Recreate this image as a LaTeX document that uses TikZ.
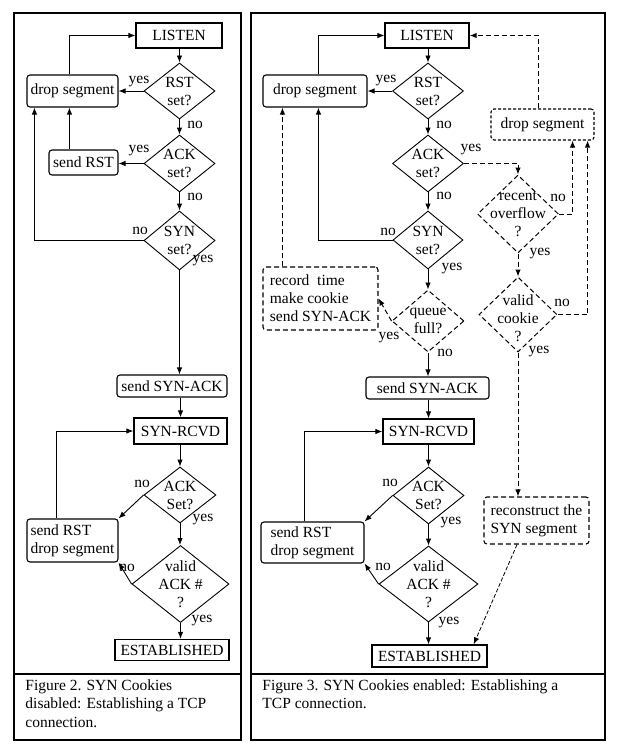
\documentclass[tikz,border=0pt]{standalone}
\usepackage{fontspec}
\setmainfont{Liberation Serif}
\usetikzlibrary{arrows.meta,shapes.geometric}

\tikzset{
  sz/.style 2 args={minimum width=#1,minimum height=#2},
  box/.style={draw,line width=1.3pt,inner sep=0pt},
  act/.style={draw,line width=1.1pt,rounded corners=3pt,inner sep=0pt,align=left},
  dact/.style={act,line width=1.1pt,dash pattern=on 5pt off 3pt},
  dec/.style={draw,diamond,line width=0.9pt,inner sep=0pt},
  ddec/.style={dec,line width=1pt,dash pattern=on 5pt off 3pt},
  dtx/.style={align=center,inner sep=0pt},
  lab/.style={inner sep=0pt},
  dline/.style={line width=1pt,dash pattern=on 5pt off 3pt},
}

\begin{document}
\begin{tikzpicture}[x=1pt,y=-1pt,>={Latex[length=7pt,width=5.5pt]},line width=0.9pt,
    font=\fontsize{15.5}{18}\selectfont]
  \useasboundingbox (0,0) rectangle (622,752);
  % the two frames
  \draw[line width=1.3pt] (14,13) rectangle (241,740) (14,674) -- (241,674);
  \draw[line width=1.3pt] (251,13) rectangle (605,740) (251,674) -- (605,674);

  % Figure 2: cookies off
  \node[box,sz={86pt}{25pt}] (alisten) at (179,35.5) {LISTEN};
  \node[dec,sz={71pt}{56pt},label={[dtx]center:RST\\set?}] (arst) at (179.5,91) {};
  \node[act,sz={91pt}{32pt}] (adrop) at (72.5,91) {drop segment};
  \node[dec,sz={71pt}{57pt},label={[dtx]center:ACK\\set?}] (aack) at (179.5,163.5) {};
  \node[act,sz={69pt}{25pt}] (asendrst) at (83.5,162.5) {send RST};
  \node[dec,sz={71pt}{59pt},label={[dtx]center:SYN\\set?}] (asyn) at (179.5,240.5) {};
  \node[act,sz={110pt}{22pt}] (asynack) at (172,386) {send SYN-ACK};
  \node[box,sz={93pt}{26pt}] (arcvd) at (180.5,431) {SYN-RCVD};
  \node[dec,sz={72pt}{56pt},label={[dtx]center:ACK\\Set?}] (aset) at (180,495) {};
  \node[act,sz={91pt}{43pt}] (arstdrop) at (72.5,540.5) {send RST\\drop segment};
  \node[dec,sz={97pt}{77pt},label={[dtx]center:valid\\ACK \#\\?}] (avalid) at (180.5,584) {};
  \node[box,sz={114pt}{21pt}] (aest) at (172,650) {ESTABLISHED};

  \draw[->] (arst.north |- alisten.south) -- (arst.north);
  \draw[->] (arst.west) -- (adrop.east);
  \draw[->] (arst.south) -- (aack.north);
  \draw[->] (aack.west) -- (aack.west -| asendrst.east);
  \draw[->] (aack.south) -- (asyn.north);
  \draw[->] (asyn.west) -| ([xshift=8pt]adrop.south west);
  \draw[->] ([xshift=21pt]asendrst.north west) -- ([xshift=21pt]asendrst.north west |- adrop.south);
  \draw[->] ([xshift=43pt]adrop.north west) |- (alisten.west);
  \draw[->] (asyn.south) -- (asyn.south |- asynack.north);
  \draw[->] (arcvd.north |- asynack.south) -- (arcvd.north);
  \draw[->] (aset.north |- arcvd.south) -- (aset.north);
  \draw[->] (aset.west) -- (arstdrop.north east);
  \draw[->] (aset.south) -- (aset.south |- avalid.north);
  \draw[->] (avalid.west) -- (arstdrop.south east);
  \draw[->] (avalid.south) -- (avalid.south |- aest.north);
  \draw[->] ([xshift=30pt]arstdrop.north west) |- (arcvd.west);

  \node[lab] (la1) at (139,82) {yes};
  \node[lab] (la2) at (195,125) {no};
  \node[lab] (la3) at (139,151) {yes};
  \node[lab] (la4) at (195,197) {no};
  \node[lab] (la5) at (140,231) {no};
  \node[lab] (la6) at (203,261) {yes};
  \node[lab] (la7) at (142,484) {no};
  \node[lab] (la8) at (203,520) {yes};
  \node[lab] (la9) at (127,568) {no};
  \node[lab] (la10) at (202,621) {yes};

  \node[anchor=north west,align=left,inner sep=0pt,font=\fontsize{15.5}{18.5}\selectfont] (capa)
    at (25,679) {Figure 2. SYN Cookies\\disabled: Establishing a TCP\\connection.};

  % Figure 3: cookies on
  \node[box,sz={84pt}{25pt}] (blisten) at (427,35.5) {LISTEN};
  \node[dec,sz={71pt}{56pt},label={[dtx]center:RST\\set?}] (brst) at (428,91) {};
  \node[act,sz={104pt}{32pt}] (bdrop) at (315,91) {drop segment};
  \node[dec,sz={71pt}{57pt},label={[dtx]center:ACK\\set?}] (back) at (428,163.5) {};
  \node[dec,sz={70pt}{58pt},label={[dtx]center:SYN\\set?}] (bsyn) at (428,240) {};
  \node[dact,sz={115pt}{63pt}] (brecord) at (320.5,298.5) {record\ \ time\\make cookie\\send SYN-ACK};
  \node[ddec,sz={72pt}{62pt},label={[dtx]center:queue\\full?}] (bqueue) at (428,321) {};
  \node[act,sz={123pt}{22pt}] (bsynack) at (427.5,388) {send SYN-ACK};
  \node[box,sz={91pt}{25pt}] (brcvd) at (428.5,431.5) {SYN-RCVD};
  \node[dec,sz={71pt}{57pt},label={[dtx]center:ACK\\Set?}] (bset) at (428.5,495.5) {};
  \node[act,sz={103pt}{41pt}] (brstdrop) at (312.5,542.5) {send RST\\drop segment};
  \node[dec,sz={99pt}{76pt},label={[dtx]center:valid\\ACK \#\\?}] (bvalid) at (428.5,584) {};
  \node[box,sz={115pt}{22pt}] (best) at (429.5,656) {ESTABLISHED};
  \node[act,sz={103pt}{31pt},dash pattern=on 3pt off 2pt] (bdrop2) at (542.5,124.5) {drop segment};
  \node[ddec,sz={81pt}{78pt},label={[dtx]center:recent\\overflow\\?}] (brecent) at (518,214) {};
  \node[ddec,sz={78pt}{75pt},label={[dtx,yshift=-4pt]center:valid\\cookie\\?}] (bcookie) at (518,314.5) {};
  \node[dact,sz={105pt}{47pt}] (brecon) at (536.5,520.5) {reconstruct the\\SYN segment};

  \draw[->] (brst.north |- blisten.south) -- (brst.north);
  \draw[->] (brst.west) -- (bdrop.east);
  \draw[->] (brst.south) -- (back.north);
  \draw[->] (back.south) -- (bsyn.north);
  \draw[->] (bsyn.west) -| ([xshift=56pt]bdrop.south west);
  \draw[->] ([xshift=56pt]bdrop.north west) |- (blisten.west);
  \draw[->] (bsyn.south) -- (bqueue.north);
  \draw[->] (bqueue.south) -- (bqueue.south |- bsynack.north);
  \draw[->] (brcvd.north |- bsynack.south) -- (brcvd.north);
  \draw[->] (brcvd.south) -- (bset.north);
  \draw[->] (bset.west) -- (brstdrop.north east);
  \draw[->] (bset.south) -- (bvalid.north);
  \draw[->] (bvalid.west) -- (brstdrop.south east);
  \draw[->] (bvalid.south) -- (bvalid.south |- best.north);
  \draw[->] ([xshift=44pt]brstdrop.north west) |- (brcvd.west);

  \draw[->,dline] (back.east) -| (brecent.north);
  \draw[->,dline] (bqueue.west) -- (brecord.east);
  \draw[->,dline] ([xshift=20pt]brecord.north west) -- ([xshift=20pt]brecord.north west |- bdrop.south);
  \draw[->,dline] ([xshift=-4.5pt]bdrop2.north) |- (blisten.east);
  \draw[->,dline] (brecent.east) -| ([xshift=-22pt]bdrop2.south east);
  \draw[->,dline] (bcookie.east) -| ([xshift=-7pt]bdrop2.south east);
  \draw[->,dline] (brecent.south) -- (bcookie.north);
  \draw[->,dline] (bcookie.south) -- (bcookie.south |- brecon.north);
  \draw[->,line width=0.8pt,dash pattern=on 4pt off 2pt] ([xshift=-19.5pt]brecon.south) -- ([xshift=-14pt]best.north east);

  \node[lab] (lb1) at (386,81) {yes};
  \node[lab] (lb2) at (444,125) {no};
  \node[lab] (lb3) at (471,150) {yes};
  \node[lab] (lb4) at (444,196) {no};
  \node[lab] (lb5) at (388,232) {no};
  \node[lab] (lb6) at (452,269) {yes};
  \node[lab] (lb7) at (389,338) {yes};
  \node[lab] (lb8) at (445,353) {no};
  \node[lab] (lb9) at (558,198) {no};
  \node[lab] (lb10) at (540,254) {yes};
  \node[lab] (lb11) at (562,303) {no};
  \node[lab] (lb12) at (539,352) {yes};
  \node[lab] (lb13) at (390,483) {no};
  \node[lab] (lb14) at (451,523) {yes};
  \node[lab] (lb15) at (383,567) {no};
  \node[lab] (lb16) at (449,623) {yes};

  \node[anchor=north west,align=left,inner sep=0pt,font=\fontsize{15.5}{18.5}\selectfont] (capb)
    at (262,679) {Figure 3. SYN Cookies enabled: Establishing a\\TCP connection.};
\end{tikzpicture}
\end{document}
